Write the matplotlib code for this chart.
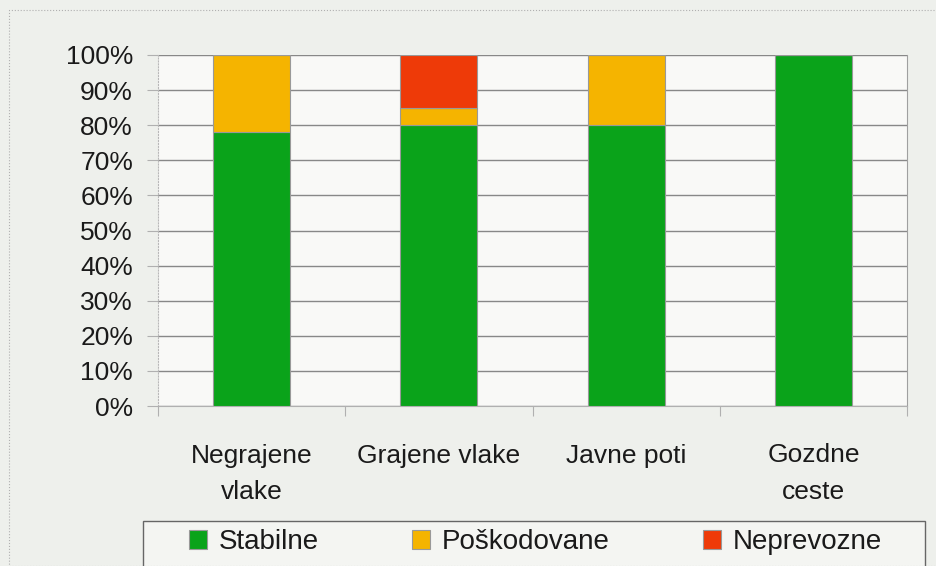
import matplotlib
matplotlib.use("Agg")
import matplotlib.pyplot as plt
from matplotlib.patches import Rectangle
import numpy as np

categories = ["Negrajene\nvlake", "Grajene vlake", "Javne poti", "Gozdne\nceste"]
stabilne = [78, 80, 80, 100]
poskodovane = [22, 5, 20, 0]
neprevozne = [0, 15, 0, 0]
series_names = ["Stabilne", "Poškodovane", "Neprevozne"]
colors = ["#0aa31a", "#f5b400", "#ee3a08"]

plt.rcParams['font.family'] = ['Liberation Sans', 'DejaVu Sans']

W, H = 936, 566
fig = plt.figure(figsize=(W/100, H/100), dpi=100)
fig.patch.set_facecolor("#eef0ec")

ax = fig.add_axes([158/W, 1-406/H, 749/W, 351/H])
ax.set_facecolor("#f9f9f7")

x = np.arange(len(categories))
bw = 0.41
bottom = np.zeros(len(categories))
handles = []
for vals, name, c in zip([stabilne, poskodovane, neprevozne], series_names, colors):
    v = np.array(vals, dtype=float)
    b = ax.bar(x, v, bw, bottom=bottom, color=c, edgecolor="#999999", linewidth=0.8,
               label=name, zorder=3)
    handles.append(b)
    bottom += v

ax.set_xlim(-0.5, len(categories)-0.5)
ax.set_ylim(0, 100)
ax.set_yticks(np.arange(0, 101, 10))
ax.set_yticklabels([f"{t}%" for t in range(0, 101, 10)], fontsize=19, color="#1a1a1a")
ax.yaxis.grid(True, color="#888888", linewidth=1.0, zorder=0)

ax.set_xticks(x)
ax.set_xticklabels(categories, fontsize=19, linespacing=1.65, color="#1a1a1a")
ax.tick_params(axis='x', length=0, pad=27)
ax.set_xticks(np.arange(-0.5, len(categories), 1), minor=True)
ax.tick_params(axis='x', which='minor', length=7, color="#b0b0b0", width=0.8)
ax.tick_params(axis='y', length=8, color="#b0b0b0", width=0.8, pad=10)

ax.spines["top"].set_visible(False)
ax.spines["right"].set_color("#a0a0a0")
ax.spines["left"].set_color("#b8b8b8")
ax.spines["left"].set_linestyle(":")
ax.spines["bottom"].set_color("#b0b0b0")

# legend frame
frame = Rectangle((143/W, -0.05), (925-143)/W, 1-521/H+0.05, transform=fig.transFigure,
                  facecolor="#f4f5f2", edgecolor="#666666", linewidth=1.0)
fig.patches.append(frame)

leg = fig.legend(handles=handles, labels=series_names, loc="center left",
                 bbox_to_anchor=(189/W, 1-542/H), ncol=3, fontsize=20, frameon=False,
                 handlelength=0.65, handleheight=0.65, handletextpad=0.42,
                 columnspacing=3.35, borderaxespad=0, borderpad=0)
for t in leg.get_texts():
    t.set_color("#1a1a1a")

border = Rectangle((9/W, 0), 1.2, 1-10/H, transform=fig.transFigure, fill=False,
                   edgecolor="#b0b0b0", linestyle=":", linewidth=0.8)
fig.patches.append(border)

fig.savefig("out.png", dpi=100, facecolor=fig.get_facecolor())
